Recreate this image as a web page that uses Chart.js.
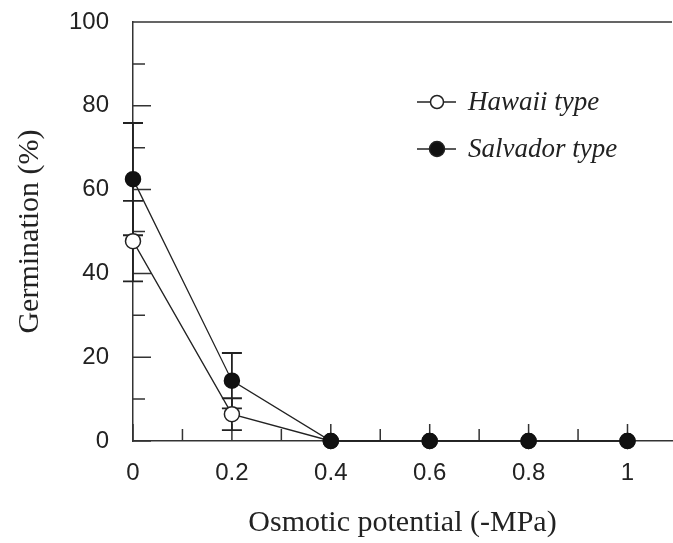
<!DOCTYPE html>
<html>
<head>
<meta charset="utf-8">
<script src="https://cdn.jsdelivr.net/npm/chart.js@4.4.1/dist/chart.umd.min.js"></script>
<style>
    html, body { margin: 0; padding: 0; background: #fff; overflow: hidden; }
    #wrap { width: 681px; height: 543px; }
</style>
</head>
<body>
<div id="wrap"><canvas id="germChart"></canvas></div>
<script>
// datos
const potentials = [0, 0.2, 0.4, 0.6, 0.8, 1];
const hawaiiValues = [47.7, 6.4, 0, 0, 0, 0];
const hawaiiErrors = [9.6, 3.8, 0, 0, 0, 0];
const salvadorValues = [62.5, 14.4, 0, 0, 0, 0];
const salvadorErrors = [13.4, 6.6, 0, 0, 0, 0];

const yTickValues = [0, 10, 20, 30, 40, 50, 60, 70, 80, 90, 100];
const yTickLabels = ['0', '', '20', '', '40', '', '60', '', '80', '', '100'];
const xTickValues = [0, 0.1, 0.2, 0.3, 0.4, 0.5, 0.6, 0.7, 0.8, 0.9, 1];
const xTickLabels = ['0', '', '0.2', '', '0.4', '', '0.6', '', '0.8', '', '1'];

const ink = '#222';
const axisInk = '#333';

// --- marcas hacia dentro + borde superior ---
const inwardTicks = {
    id: 'inwardTicks',
    beforeDatasetsDraw(chart) {
        const { ctx, chartArea, scales: { x, y } } = chart;
        ctx.save();
        ctx.strokeStyle = axisInk;
        ctx.lineWidth = 1.5;
        ctx.beginPath();
        yTickValues.forEach((v, i) => {
            const py = y.getPixelForValue(v);
            const len = yTickLabels[i] ? 18 : 12;
            ctx.moveTo(chartArea.left, py);
            ctx.lineTo(chartArea.left + len, py);
        });
        xTickValues.forEach((v, i) => {
            const px = x.getPixelForValue(v);
            const len = xTickLabels[i] ? 17 : 12;
            ctx.moveTo(px, chartArea.bottom);
            ctx.lineTo(px, chartArea.bottom - len);
        });
        ctx.moveTo(chartArea.left, chartArea.top);
        ctx.lineTo(chartArea.right, chartArea.top);
        ctx.stroke();
        ctx.restore();
    }
};

// --- barras de error ---
const errorBars = {
    id: 'errorBars',
    beforeDatasetsDraw(chart) {
        const { ctx, scales: { x, y } } = chart;
        const sets = [[hawaiiValues, hawaiiErrors], [salvadorValues, salvadorErrors]];
        ctx.save();
        ctx.strokeStyle = ink;
        ctx.lineWidth = 1.8;
        sets.forEach(([vals, errs]) => {
            vals.forEach((v, i) => {
                if (!errs[i]) return;
                const px = x.getPixelForValue(potentials[i]);
                const top = y.getPixelForValue(v + errs[i]);
                const bot = y.getPixelForValue(v - errs[i]);
                ctx.beginPath();
                ctx.moveTo(px, top); ctx.lineTo(px, bot);
                ctx.moveTo(px - 10, top); ctx.lineTo(px + 10, top);
                ctx.moveTo(px - 10, bot); ctx.lineTo(px + 10, bot);
                ctx.stroke();
            });
        });
        ctx.restore();
    }
};

// --- leyenda dentro del área ---
const innerLegend = {
    id: 'innerLegend',
    afterDraw(chart) {
        const { ctx } = chart;
        const rows = [
            { ds: chart.data.datasets[0], y: 102, r: 6.5 },
            { ds: chart.data.datasets[1], y: 149, r: 7.5 }
        ];
        ctx.save();
        rows.forEach(row => {
            ctx.strokeStyle = ink;
            ctx.lineWidth = 1.3;
            ctx.beginPath();
            ctx.moveTo(417, row.y); ctx.lineTo(456, row.y);
            ctx.stroke();
            ctx.beginPath();
            ctx.arc(437, row.y, row.r, 0, Math.PI * 2);
            ctx.fillStyle = row.ds.pointBackgroundColor;
            ctx.fill();
            ctx.lineWidth = 1.5;
            ctx.stroke();
            ctx.fillStyle = ink;
            ctx.font = 'italic 27px "Liberation Serif"';
            ctx.textBaseline = 'middle';
            ctx.fillText(row.ds.label, 468, row.y + 1);
        });
        ctx.restore();
    }
};

Chart.defaults.font.family = '"Liberation Sans", Arial, sans-serif';
Chart.defaults.color = ink;

const ctxGerm = document.getElementById('germChart');
new Chart(ctxGerm, {
    type: 'scatter',
    data: {
        datasets: [{
            label: 'Hawaii type',
            data: potentials.map((p, i) => ({ x: p, y: hawaiiValues[i] })),
            showLine: true,
            borderColor: ink,
            borderWidth: 1.3,
            pointBackgroundColor: '#fff',
            pointBorderColor: ink,
            pointBorderWidth: 1.5,
            pointRadius: 7.5,
            clip: false,
            order: 1
        }, {
            label: 'Salvador type',
            data: potentials.map((p, i) => ({ x: p, y: salvadorValues[i] })),
            showLine: true,
            borderColor: ink,
            borderWidth: 1.3,
            pointBackgroundColor: '#111',
            pointBorderColor: '#111',
            pointBorderWidth: 1.5,
            pointRadius: 7.5,
            clip: false,
            order: 0
        }]
    },
    options: {
        responsive: true,
        maintainAspectRatio: false,
        animation: false,
        layout: { padding: { top: 22, right: 0, left: 0, bottom: 0 } },
        plugins: {
            legend: { display: false },
            tooltip: { enabled: false }
        },
        scales: {
            x: {
                type: 'linear',
                min: 0,
                max: 1.09,
                afterBuildTicks: s => { s.ticks = xTickValues.map(v => ({ value: v })); },
                afterFit: s => {
                    s.height = 102;
                    s.paddingLeft = 0;
                    s.paddingRight = 0;
                },
                grid: { display: false, drawTicks: false },
                border: { display: true, color: axisInk, width: 1.5 },
                ticks: {
                    autoSkip: false,
                    maxRotation: 0,
                    padding: 18,
                    font: { size: 24 },
                    callback: (v, i) => xTickLabels[i]
                },
                title: {
                    display: true,
                    text: 'Osmotic potential (-MPa)',
                    font: { family: '"Liberation Serif", serif', size: 30 },
                    padding: { top: 0, bottom: 2 }
                }
            },
            y: {
                min: 0,
                max: 100,
                afterBuildTicks: s => { s.ticks = yTickValues.map(v => ({ value: v })); },
                afterFit: s => {
                    s.width = 133;
                    s.paddingTop = 0;
                    s.paddingBottom = 0;
                },
                grid: { display: false, drawTicks: false },
                border: { display: true, color: axisInk, width: 1.5 },
                ticks: {
                    autoSkip: false,
                    padding: 24,
                    font: { size: 24 },
                    callback: (v, i) => yTickLabels[i]
                },
                title: {
                    display: true,
                    text: 'Germination (%)',
                    font: { family: '"Liberation Serif", serif', size: 30 },
                    padding: { top: 12, bottom: 0 }
                }
            }
        }
    },
    plugins: [inwardTicks, errorBars, innerLegend]
});
</script>
</body>
</html>
